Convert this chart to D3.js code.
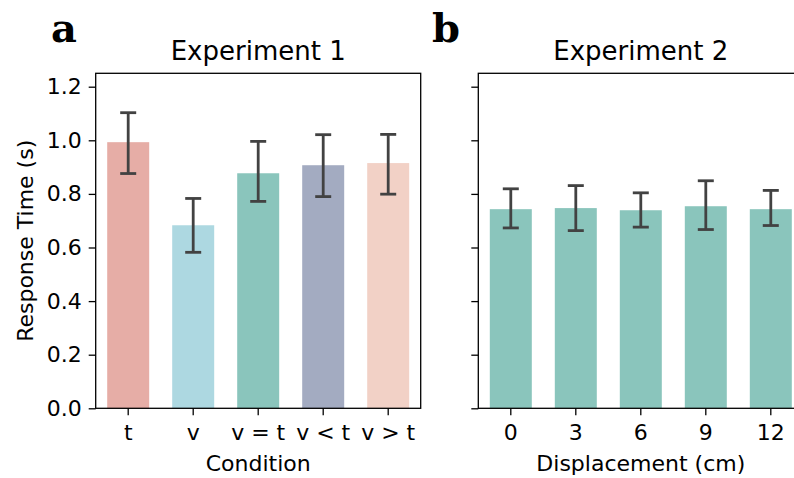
<!DOCTYPE html>
<html>
<head>
<meta charset="utf-8">
<script src="https://cdn.jsdelivr.net/npm/d3@7"></script>
<style>
  body { margin: 0; background: #fff; }
  text { font-family: "DejaVu Sans", sans-serif; fill: #000; }
</style>
</head>
<body>
<div id="chart"></div>
<script>
// experiment 1
var exp1_conditions = ["t", "v", "v = t", "v < t", "v > t"];
var exp1_means = [0.993, 0.683, 0.877, 0.907, 0.915];
var exp1_lower = [0.876, 0.582, 0.772, 0.790, 0.799];
var exp1_upper = [1.103, 0.783, 0.996, 1.021, 1.022];
var exp1_colors = ["#e6ada6", "#add8e1", "#8ac5bc", "#a3abc1", "#f2d1c6"];

// experiment 2
var exp2_displacements = ["0", "3", "6", "9", "12"];
var exp2_means = [0.743, 0.747, 0.739, 0.754, 0.743];
var exp2_lower = [0.673, 0.663, 0.676, 0.667, 0.682];
var exp2_upper = [0.819, 0.831, 0.804, 0.849, 0.813];
var exp2_color = "#8ac5bc";

var y_ticks = [0, 0.2, 0.4, 0.6, 0.8, 1.0, 1.2];

var width = 794, height = 478;
var top_y = 73.3, bottom_y = 408.3;

var svg = d3.select("#chart").append("svg")
	.attr("width", width)
	.attr("height", height);

var y = d3.scaleLinear().domain([0, 1.25]).range([bottom_y, top_y]);

function drawPanel(opts){
	var x = d3.scaleBand()
		.domain(opts.cats)
		.range([opts.x0, opts.x0 + 325])
		.paddingInner(0.354)
		.paddingOuter(0.177);

	var g = svg.append("g");
	var data = opts.cats.map(function(c, i){
		return {cat: c, mean: opts.means[i], lo: opts.lower[i], hi: opts.upper[i], color: opts.colors[i]};
	});

	g.selectAll("rect.bar")
		.data(data)
		.enter()
		.append("rect")
		.attr("class", "bar")
		.attr("x", function(d){ return x(d.cat); })
		.attr("width", x.bandwidth())
		.attr("y", function(d){ return y(d.mean); })
		.attr("height", function(d){ return y(0) - y(d.mean); })
		.style("fill", function(d){ return d.color; });

	var err = g.selectAll("g.err")
		.data(data)
		.enter()
		.append("g")
		.attr("class", "err")
		.attr("transform", function(d){ return "translate(" + (x(d.cat) + x.bandwidth()/2) + ",0)"; });
	err.append("line")
		.attr("y1", function(d){ return y(d.lo); })
		.attr("y2", function(d){ return y(d.hi); })
		.style("stroke", "#424242").style("stroke-width", 2.8);
	err.append("line")
		.attr("x1", -8).attr("x2", 8)
		.attr("y1", function(d){ return y(d.lo); })
		.attr("y2", function(d){ return y(d.lo); })
		.style("stroke", "#424242").style("stroke-width", 2.8);
	err.append("line")
		.attr("x1", -8).attr("x2", 8)
		.attr("y1", function(d){ return y(d.hi); })
		.attr("y2", function(d){ return y(d.hi); })
		.style("stroke", "#424242").style("stroke-width", 2.8);

	// axes
	var yAxis = d3.axisLeft(y).tickValues(y_ticks).tickSize(7).tickPadding(7)
		.tickFormat(opts.showYLabels ? d3.format(".1f") : "");
	var gy = g.append("g")
		.attr("transform", "translate(" + opts.x0 + ",0)")
		.call(yAxis);
	var xAxis = d3.axisBottom(x).tickSize(7).tickPadding(9);
	var gx = g.append("g")
		.attr("transform", "translate(0," + bottom_y + ")")
		.call(xAxis);
	[gx, gy].forEach(function(a){
		a.select(".domain").remove();
		a.selectAll(".tick line").style("stroke", "#000").style("stroke-width", 1.3);
		a.selectAll(".tick text").style("font-size", "22px").style("font-family", "DejaVu Sans");
	});

	// frame
	g.append("rect")
		.attr("x", opts.x0)
		.attr("y", top_y)
		.attr("width", 325)
		.attr("height", bottom_y - top_y)
		.style("fill", "none")
		.style("stroke", "#000")
		.style("stroke-width", 1.3);

	g.append("text")
		.attr("x", opts.x0 + 162.5)
		.attr("y", 60)
		.attr("text-anchor", "middle")
		.style("font-size", "26px")
		.text(opts.title);
	g.append("text")
		.attr("x", opts.x0 + 162.5)
		.attr("y", 471)
		.attr("text-anchor", "middle")
		.style("font-size", "22px")
		.text(opts.xlabel);
	g.append("text")
		.attr("x", opts.letterX)
		.attr("y", 42)
		.style("font-family", "DejaVu Serif")
		.style("font-weight", "bold")
		.style("font-size", "40px")
		.text(opts.letter);
}

drawPanel({cats: exp1_conditions, means: exp1_means, lower: exp1_lower, upper: exp1_upper,
	colors: exp1_colors, x0: 95.7, title: "Experiment 1", xlabel: "Condition",
	letter: "a", letterX: 51, showYLabels: true});

drawPanel({cats: exp2_displacements, means: exp2_means, lower: exp2_lower, upper: exp2_upper,
	colors: exp2_displacements.map(function(){ return exp2_color; }), x0: 478.3,
	title: "Experiment 2", xlabel: "Displacement (cm)",
	letter: "b", letterX: 432, showYLabels: false});

svg.append("text")
	.attr("transform", "translate(33," + ((top_y + bottom_y)/2) + ") rotate(-90)")
	.attr("text-anchor", "middle")
	.style("font-size", "22px")
	.text("Response Time (s)");
</script>
</body>
</html>
